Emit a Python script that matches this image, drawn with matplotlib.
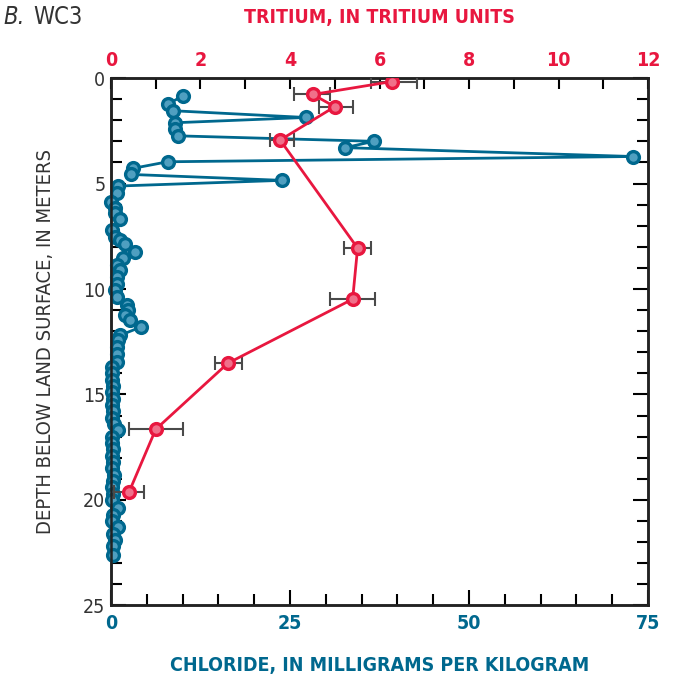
import numpy as np
import matplotlib
matplotlib.use('Agg')
from matplotlib import pyplot as plt
from matplotlib.ticker import MultipleLocator

plt.rcParams['font.family'] = ['DejaVu Sans Condensed', 'Liberation Sans Narrow', 'DejaVu Sans']
plt.rcParams['font.stretch'] = 'condensed'

RED = '#e8173f'
BLUE = '#00688e'
GRAY = '#333333'

# chloride profile (mg/kg) vs depth (m)
chl_depth = [0.85, 1.25, 1.55, 1.87, 2.12, 2.42, 2.74, 3.0, 3.3, 3.72,
             3.97, 4.28, 4.57, 4.85, 5.12, 5.47, 5.87, 6.17, 6.42, 6.7,
             7.21, 7.53, 7.68, 7.89, 8.24, 8.55, 8.87, 9.1, 9.42, 9.74,
             10.06, 10.37, 10.77, 11.0, 11.25, 11.48, 11.8, 12.19, 12.43, 12.74,
             13.06, 13.46, 13.7, 14.0, 14.3, 14.6, 14.9, 15.2, 15.5, 15.8,
             16.1, 16.4, 16.7, 17.0, 17.3, 17.6, 17.9, 18.2, 18.5, 18.8,
             19.1, 19.4, 19.7, 20.0, 20.4, 20.7, 21.0, 21.3, 21.6, 21.9,
             22.2, 22.6]
chl_value = [10.0, 7.9, 8.6, 27.2, 8.9, 8.9, 9.3, 36.7, 32.7, 72.9,
             7.9, 3.1, 2.8, 23.9, 1.0, 0.8, 0.0, 0.5, 0.6, 1.3,
             0.1, 0.6, 1.3, 2.0, 3.4, 1.7, 0.8, 1.3, 0.8, 0.8,
             0.6, 0.8, 2.2, 2.4, 2.0, 2.7, 4.2, 1.3, 1.0, 0.9,
             0.9, 0.8, 0.1, 0.2, 0.2, 0.3, 0.2, 0.3, 0.2, 0.3,
             0.2, 0.4, 1.0, 0.1, 0.2, 0.3, 0.2, 0.3, 0.2, 0.4,
             0.3, 0.2, 0.3, 0.2, 1.0, 0.3, 0.2, 1.0, 0.3, 0.5,
             0.3, 0.3]

# tritium (TU) vs depth (m), with uncertainty range
tri_depth = [0.17, 0.78, 1.36, 2.94, 8.06, 10.48, 13.52, 16.65, 19.64]
tri_value = [6.27, 4.51, 5.00, 3.78, 5.51, 5.40, 2.61, 1.00, 0.40]
tri_low = [5.80, 4.08, 4.64, 3.55, 5.20, 4.90, 2.32, 0.40, 0.07]
tri_high = [6.83, 4.90, 5.40, 4.08, 5.80, 5.90, 2.92, 1.60, 0.73]

fig = plt.figure(figsize=(6.73, 6.82), dpi=100)
ax = fig.add_axes([0.1649, 0.1122, 0.798, 0.7734])

ax.plot(chl_value, chl_depth, '-o', color=BLUE, lw=2.0, ms=8.5,
        mfc='#4f9fc0', mec=BLUE, mew=2.4, zorder=3, clip_on=False)
ax.set_xlim(0, 75)
ax.set_ylim(25, 0)
ax.xaxis.set_major_locator(MultipleLocator(25))
ax.xaxis.set_minor_locator(MultipleLocator(5))
ax.yaxis.set_major_locator(MultipleLocator(5))
ax.yaxis.set_minor_locator(MultipleLocator(1))
ax.tick_params(axis='both', which='both', direction='in', width=1.5,
               top=False, right=True)
ax.tick_params(which='major', length=11)
ax.tick_params(which='minor', length=8)
ax.tick_params(axis='x', labelsize=14, labelcolor=BLUE, pad=6)
ax.tick_params(axis='y', labelsize=14, labelcolor=GRAY, pad=4)
for lab in ax.get_xticklabels():
    lab.set_fontweight('bold')
ax.set_xlabel('CHLORIDE, IN MILLIGRAMS PER KILOGRAM', color=BLUE,
              fontsize=14, fontweight='bold', labelpad=17)
ax.set_ylabel('DEPTH BELOW LAND SURFACE, IN METERS', color=GRAY,
              fontsize=14.5, labelpad=20)

ax2 = ax.twiny()
t = np.array(tri_value)
xerr = [t - np.array(tri_low), np.array(tri_high) - t]
ax2.errorbar(tri_value, tri_depth, xerr=xerr, fmt='none', ecolor='#4a4a4a',
             elinewidth=1.5, capsize=5, capthick=1.5, zorder=4)
ax2.plot(tri_value, tri_depth, '-o', color=RED, lw=2.0, ms=8.5,
         mfc='#f0708a', mec=RED, mew=2.4, zorder=5)
ax2.set_xlim(0, 12)
ax2.xaxis.set_major_locator(MultipleLocator(2))
ax2.xaxis.set_minor_locator(MultipleLocator(1))
ax2.tick_params(axis='x', which='both', direction='in', width=1.5,
                length=8, labelsize=14, labelcolor=RED, pad=6)
for lab in ax2.get_xticklabels():
    lab.set_fontweight('bold')
ax2.set_xlabel('TRITIUM, IN TRITIUM UNITS', color=RED, fontsize=14,
               fontweight='bold', labelpad=20)

for a in (ax, ax2):
    for s in a.spines.values():
        s.set_linewidth(1.8)
        s.set_color('#222222')

fig.text(0.005, 0.975, 'B.', fontsize=17, style='italic', color=GRAY,
         va='center')
fig.text(0.05, 0.975, 'WC3', fontsize=17, color=GRAY, va='center')

fig.savefig('out.png', dpi=100)
